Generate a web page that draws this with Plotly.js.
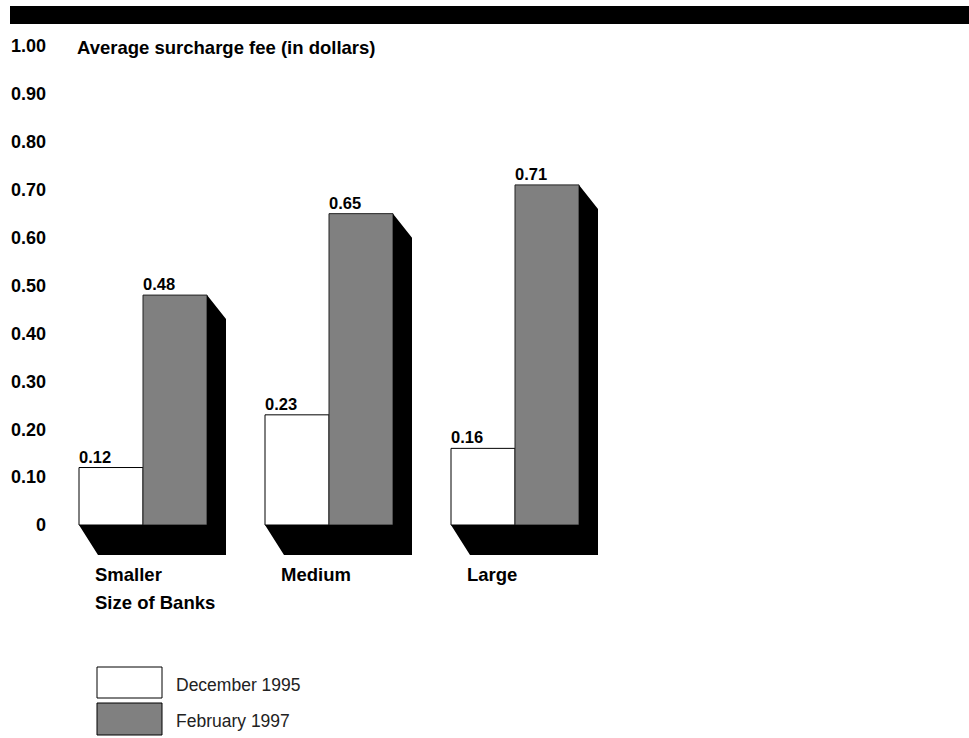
<!DOCTYPE html>
<html>
<head>
<meta charset="utf-8">
<script src="https://cdn.plot.ly/plotly-3.0.1.min.js"></script>
<style>html,body{margin:0;padding:0;background:#fff;}#chart{width:969px;height:738px;}</style>
</head>
<body>
<div id="chart"></div>
<script>
// ---- data ----
const categories = ['Smaller', 'Medium', 'Large'];
const dec1995 = [0.12, 0.23, 0.16];
const feb1997 = [0.48, 0.65, 0.71];
const seriesNames = ['December 1995', 'February 1997'];
const yTickVals = [0, 0.1, 0.2, 0.3, 0.4, 0.5, 0.6, 0.7, 0.8, 0.9, 1.0];
const yTickText = ['0', '0.10', '0.20', '0.30', '0.40', '0.50', '0.60', '0.70', '0.80', '0.90', '1.00'];
const yAxisTitle = 'Average surcharge fee (in dollars)';
const xAxisTitle = 'Size of Banks';

// ---- geometry ----
const W = 969, H = 738;
const M = {l: 60, r: 309, t: 36, b: 156};
const plotW = W - M.l - M.r, plotH = H - M.t - M.b;
const pxPerCat = 186, pxPerUnit = 479;
const xr0 = -(143 - M.l) / pxPerCat;
const xRange = [xr0, xr0 + plotW / pxPerCat];
const yBottomPx = H - M.b;
const yRange = [-(yBottomPx - 525) / pxPerUnit, (525 - M.t) / pxPerUnit];
const barW = 64 / pxPerCat;
const dx = 19 / pxPerCat, dyB = 30 / pxPerUnit, dyT = 24 / pxPerUnit;
const px2paperX = p => (p - M.l) / plotW;
const px2paperY = p => (yBottomPx - p) / plotH;

const idx = categories.map((c, i) => i);
const FONT = 'Liberation Sans, Arial, Helvetica, sans-serif';

const traces = [];
// shadows
idx.forEach(i => {
  const L = i - barW, R = i + barW, top = feb1997[i];
  traces.push({
    type: 'scatter', mode: 'lines', fill: 'toself', fillcolor: '#000',
    line: {width: 0, color: '#000'}, hoverinfo: 'skip', showlegend: false,
    x: [L, L + dx, R + dx, R + dx, R, R, L],
    y: [0, -dyB, -dyB, top - dyT, top, 0, 0]
  });
});
traces.push({
  type: 'bar', name: seriesNames[0], x: idx, y: dec1995, width: barW, offset: -barW,
  marker: {color: '#ffffff', line: {color: '#000', width: 1}}, showlegend: false, hoverinfo: 'y'
});
traces.push({
  type: 'bar', name: seriesNames[1], x: idx, y: feb1997, width: barW, offset: 0,
  marker: {color: '#808080', line: {color: '#222', width: 1}}, showlegend: false, hoverinfo: 'y'
});

const annotations = [];
idx.forEach(i => {
  annotations.push({x: i - barW, y: dec1995[i], xref: 'x', yref: 'y', text: dec1995[i].toFixed(2),
    showarrow: false, xanchor: 'left', yanchor: 'bottom', xshift: -2, yshift: 0,
    font: {family: FONT, size: 16.5, weight: 'bold', color: '#000'}});
  annotations.push({x: i, y: feb1997[i], xref: 'x', yref: 'y', text: feb1997[i].toFixed(2),
    showarrow: false, xanchor: 'left', yanchor: 'bottom', xshift: -2, yshift: 0,
    font: {family: FONT, size: 16.5, weight: 'bold', color: '#000'}});
  annotations.push({x: i - barW, y: px2paperY(574), xref: 'x', yref: 'paper', text: categories[i],
    showarrow: false, xanchor: 'left', yanchor: 'middle', xshift: 14,
    font: {family: FONT, size: 18.5, weight: 'bold', color: '#000'}});
});
annotations.push({x: 0 - barW, y: px2paperY(602), xref: 'x', yref: 'paper', text: xAxisTitle,
  showarrow: false, xanchor: 'left', yanchor: 'middle', xshift: 14,
  font: {family: FONT, size: 18.5, weight: 'bold', color: '#000'}});
// legend text
annotations.push({x: px2paperX(174), y: px2paperY(685), xref: 'paper', yref: 'paper', text: seriesNames[0],
  showarrow: false, xanchor: 'left', yanchor: 'middle', font: {family: FONT, size: 17.5, color: '#222'}});
annotations.push({x: px2paperX(174), y: px2paperY(721), xref: 'paper', yref: 'paper', text: seriesNames[1],
  showarrow: false, xanchor: 'left', yanchor: 'middle', font: {family: FONT, size: 17.5, color: '#222'}});

const shapes = [
  {type: 'rect', xref: 'paper', yref: 'paper', x0: px2paperX(10), x1: px2paperX(975),
   y0: px2paperY(24), y1: px2paperY(6), fillcolor: '#000', line: {width: 0}},
  {type: 'rect', xref: 'paper', yref: 'paper', x0: px2paperX(97), x1: px2paperX(162),
   y0: px2paperY(698), y1: px2paperY(667), fillcolor: '#fff', line: {color: '#000', width: 1}},
  {type: 'rect', xref: 'paper', yref: 'paper', x0: px2paperX(97), x1: px2paperX(162),
   y0: px2paperY(735), y1: px2paperY(703), fillcolor: '#808080', line: {color: '#000', width: 1}}
];

const layout = {
  width: W, height: H, margin: M,
  paper_bgcolor: '#fff', plot_bgcolor: '#fff',
  showlegend: false, barmode: 'overlay',
  title: {text: yAxisTitle, xref: 'container', yref: 'container', x: 77 / W, y: 1 - 48 / H,
    xanchor: 'left', yanchor: 'middle', font: {family: FONT, size: 18.5, weight: 'bold', color: '#000'}},
  xaxis: {range: xRange, showgrid: false, zeroline: false, showline: false, showticklabels: false,
    ticks: '', fixedrange: true},
  yaxis: {range: yRange, tickmode: 'array', tickvals: yTickVals, ticktext: yTickText,
    showgrid: false, zeroline: false, showline: false, ticks: '', ticklabelstandoff: 13,
    automargin: false, tickfont: {family: FONT, size: 18, weight: 'bold', color: '#000'}},
  annotations: annotations, shapes: shapes
};

Plotly.newPlot('chart', traces, layout, {displayModeBar: false, staticPlot: true});
</script>
</body>
</html>
